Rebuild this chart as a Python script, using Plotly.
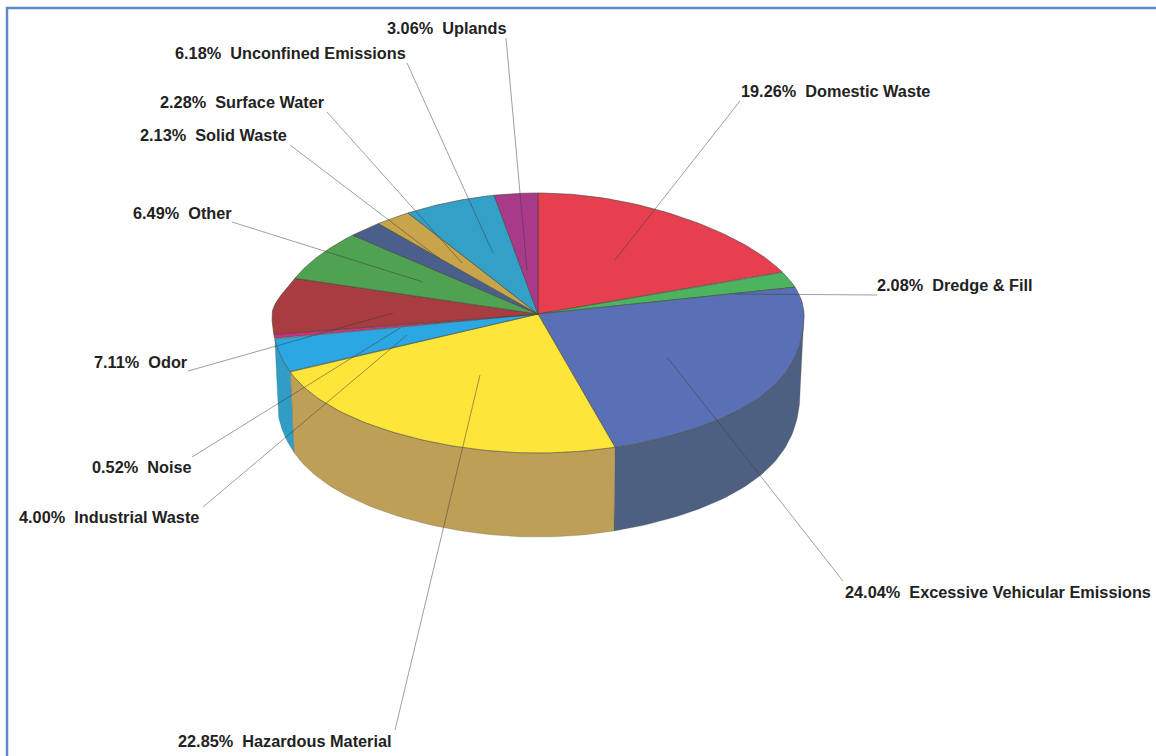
import math
import plotly.graph_objects as go

# ---- data ----
categories = ["Domestic Waste", "Dredge & Fill", "Excessive Vehicular Emissions", "Hazardous Material",
              "Industrial Waste", "Noise", "Odor", "Other", "Solid Waste", "Surface Water",
              "Unconfined Emissions", "Uplands"]
shares = [19.26, 2.08, 24.04, 22.85, 4.00, 0.52, 7.11, 6.49, 2.13, 2.28, 6.18, 3.06]

# ---- style ----
top_colors = ["#e63f50", "#4cb45f", "#5a70b6", "#fde53a", "#2ba8e4", "#d2307e",
              "#a93c40", "#4fa252", "#4a5f8c", "#c8a44a", "#33a0c8", "#a93a8a"]
wall_colors = [None, None, "#4e6082", "#bd9f58", "#2f9dc6", None, None, None, None, None, None, None]

# ---- layout of the drawing ----
CX, CY = 538, 315
RX = 266
RY_BACK, RY_FRONT = 122, 138
WALL_DX, WALL_DY, WALL_RY = 0.985, 78, 144

label_pos = [(739, 91), (875, 285), (843, 592), (176, 741), (17, 517), (90, 467),
             (92, 362), (131, 213), (138, 135), (158, 102), (173, 53), (385, 28)]
leaders = [((740, 101), (615, 260)), ((877, 295), (735, 294)), ((843, 581), (667, 357)),
           ((395, 730), (480, 375)), ((203, 507), (407, 335)), ((192, 457), (400, 328)),
           ((188, 371), (393, 313)), ((232, 222), (423, 282)), ((290, 145), (440, 259)),
           ((327, 112), (462, 263)), ((407, 63), (493, 253)), ((506, 38), (527, 270))]


def width_factor(c, s):
    if c <= 0:
        return 1 + 0.16 * c * c * s * s
    if s >= 0:
        return 1 - 0.15 * c * c
    u = min(1, c / 0.3)
    return 1 - 0.11 * c * c - 0.032 * u * u * (3 - 2 * u)


def rim(theta_deg):
    t = math.radians(theta_deg)
    c, s = math.cos(t), math.sin(t)
    ry = RY_BACK if c > 0 else RY_FRONT
    return CX + RX * width_factor(c, s) * s, CY - ry * c


def base(theta_deg):
    t = math.radians(theta_deg)
    c, s = math.cos(t), math.sin(t)
    ry = WALL_RY if c < 0 else RY_BACK
    return CX + RX * WALL_DX * width_factor(c, s) * s, CY + WALL_DY - ry * c


def steps(a, b, n=60):
    return [a + (b - a) * i / n for i in range(n + 1)]


fig = go.Figure()
edge = dict(color="rgba(70,70,60,0.75)", width=0.8)

total = sum(shares)
angles = [0]
for v in shares:
    angles.append(angles[-1] + v / total * 360)

# side walls
for i, col in enumerate(wall_colors):
    if col is None:
        continue
    a, b = max(angles[i], 90), min(angles[i + 1], 270)
    up = [rim(t) for t in steps(a, b)]
    dn = [base(t) for t in steps(b, a)]
    pts = up + dn + up[:1]
    fig.add_trace(go.Scatter(x=[p[0] for p in pts], y=[p[1] for p in pts], mode="lines", fill="toself",
                             fillcolor=col, line=dict(color="rgba(90,90,70,0.45)", width=0.6), hoverinfo="skip"))

# top face
for i, v in enumerate(shares):
    arc = [rim(t) for t in steps(angles[i], angles[i + 1])]
    pts = [(CX, CY - 1)] + arc + [(CX, CY - 1)]
    fig.add_trace(go.Scatter(x=[p[0] for p in pts], y=[p[1] for p in pts], mode="lines", fill="toself",
                             fillcolor=top_colors[i], line=edge, hoverinfo="text", text=categories[i]))

# leader lines
for (p, q) in leaders:
    fig.add_trace(go.Scatter(x=[p[0], q[0]], y=[p[1], q[1]], mode="lines",
                             line=dict(color="rgba(60,60,60,0.55)", width=0.9), hoverinfo="skip"))

annotations = []
for i, cat in enumerate(categories):
    annotations.append(dict(x=label_pos[i][0], y=label_pos[i][1], xref="x", yref="y", xanchor="left", yanchor="middle",
                            showarrow=False, text=f"{shares[i]:.2f}%\u00a0\u00a0{cat}",
                            font=dict(family="Liberation Sans", size=16.3, color="#222222", weight=600)))

fig.update_layout(
    width=1156, height=756, margin=dict(l=0, r=0, t=0, b=0), showlegend=False,
    paper_bgcolor="white", plot_bgcolor="white",
    xaxis=dict(range=[0, 1156], visible=False, fixedrange=True),
    yaxis=dict(range=[756, 0], visible=False, fixedrange=True),
    annotations=annotations,
    shapes=[dict(type="rect", xref="x", yref="y", x0=7, y0=8, x1=1170, y1=770,
                 line=dict(color="#5b8cc8", width=2.5), fillcolor="rgba(0,0,0,0)")],
)

fig.write_html("out.html", post_script="document.body.style.margin='0';document.body.style.overflow='hidden';",
               config={"displayModeBar": False})
